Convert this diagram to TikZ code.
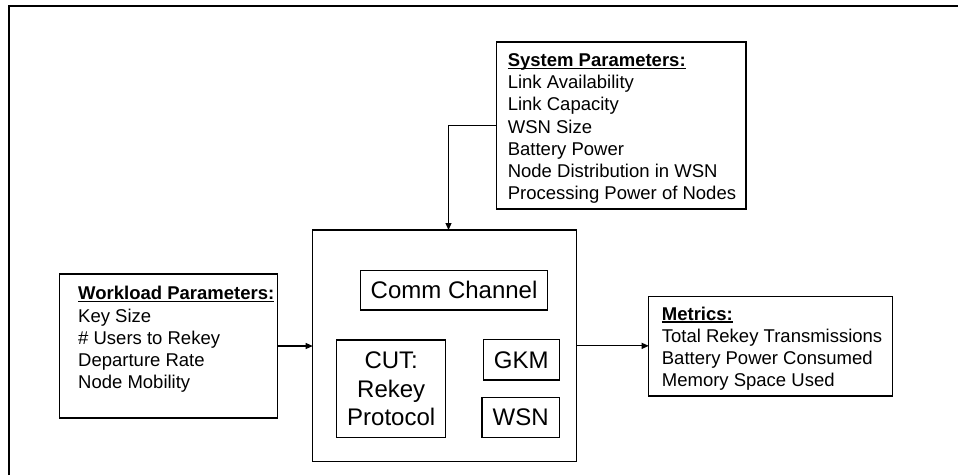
\documentclass[tikz,border=0pt]{standalone}
\usepackage{fontspec}
\setmainfont{Liberation Sans}
\usetikzlibrary{arrows.meta}

% bold heading with a rule just under its baseline
\newcommand\headline[1]{\setbox0\hbox{\bfseries #1}\rlap{\rule[-2.6pt]{\wd0}{1.4pt}}\box0}

\tikzset{
  boxed/.style={draw, line width=1.3pt, inner sep=0pt, outer sep=0pt},
  listtext/.style={anchor=north west, inner sep=0pt, align=left,
                   font=\fontsize{18.5}{22.2}\selectfont},
  bigtext/.style={font=\fontsize{24}{28.2}\selectfont, align=center},
  conn/.style={line width=1.1pt, -{Triangle[length=7pt,width=6pt]}},
  frame/.style={line width=2pt},
}

\begin{document}
\begin{tikzpicture}[x=1pt,y=-1pt]
\useasboundingbox (0,0) rectangle (959,475);

% outer frame (top and left edges)
\draw[frame] (8.5,475) -- (8.5,5.5) -- (958.3,5.5);

% parameter and metric boxes
\node[boxed, minimum width=249.4pt, minimum height=167pt] (sys)  at (621.3,125.5) {};
\node[boxed, minimum width=218.4pt, minimum height=144pt] (work) at (168.5,346) {};
\node[boxed, minimum width=244pt,   minimum height=99.3pt] (met) at (770.7,346.35) {};

% system under test
\node[boxed, minimum width=264pt, minimum height=231.7pt] (main) at (444.7,345.85) {};
\node[boxed, bigtext, minimum width=186.8pt, minimum height=39.3pt] (comm) at (454.1,290.35) {Comm Channel};
\node[boxed, bigtext, minimum width=109pt, minimum height=97.5pt] (cut) at (391.2,388.75) {CUT:\\Rekey\\Protocol};
\node[boxed, bigtext, minimum width=76pt, minimum height=40.5pt] (gkm) at (521.3,359.75) {GKM};
\node[boxed, bigtext, minimum width=77.3pt, minimum height=40pt] (wsn) at (520.65,417.3) {WSN};

% box contents
\node[listtext] (systxt) at (507.6,52.1) {\rule{0pt}{14.2pt}\headline{System Parameters:}\\
  Link Availability\\Link Capacity\\WSN Size\\Battery Power\\
  Node Distribution in WSN\\Processing Power of Nodes};
\node[listtext] (worktxt) at (78,285.4) {\rule{0pt}{14.2pt}\headline{Workload Parameters:}\\
  Key Size\\\# Users to Rekey\\Departure Rate\\Node Mobility};
\node[listtext] (mettxt) at (661.7,305.6) {\rule{0pt}{14.2pt}\headline{Metrics:}\\
  Total Rekey Transmissions\\Battery Power Consumed\\Memory Space Used};

% connectors
\coordinate (mainin) at (448.5,230);
\draw[conn] (sys.west) -| (mainin);
\draw[conn] (work.east) -- (work.east -| main.west);
\draw[conn] (main.east) -- (main.east -| met.west);
\end{tikzpicture}
\end{document}
